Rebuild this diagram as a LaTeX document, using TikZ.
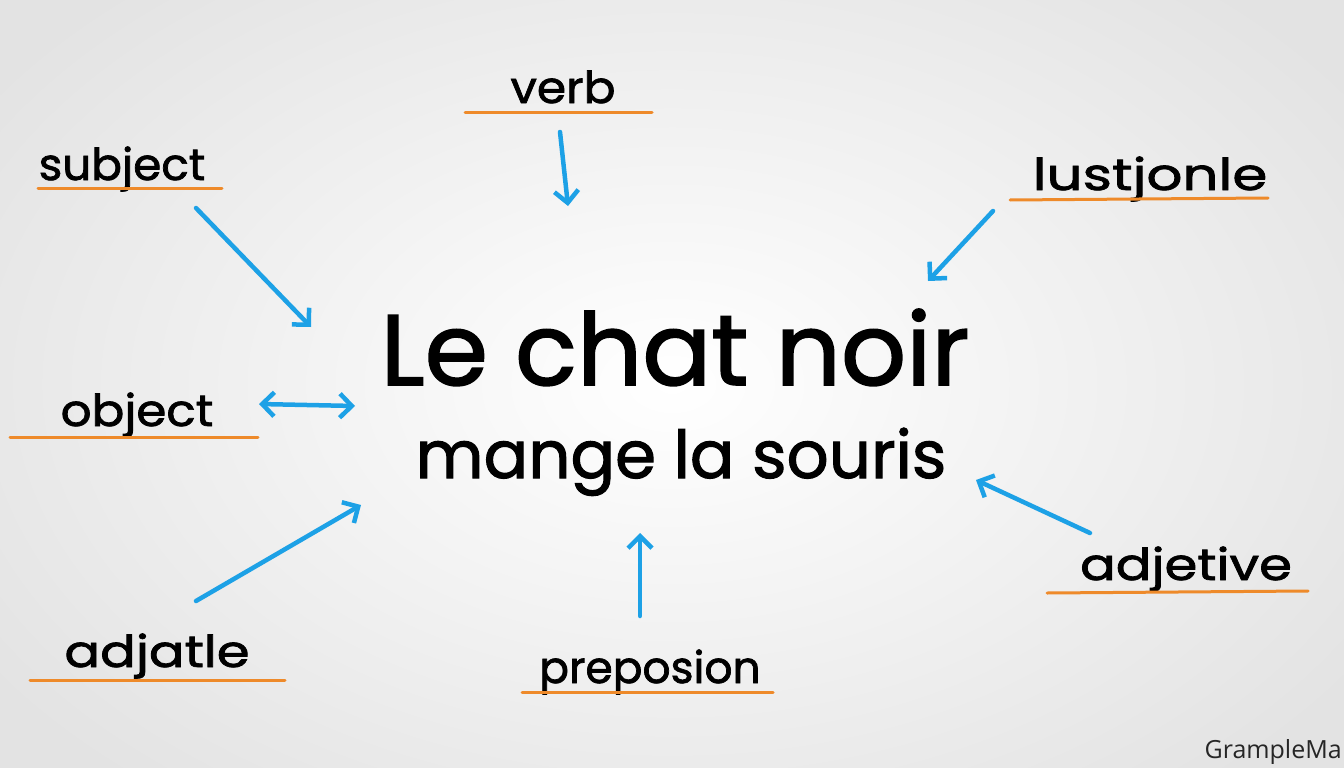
\documentclass[tikz,border=0pt]{standalone}
\usepackage{fontspec}
\setmainfont{Poppins}[FakeBold=1.6]
\newfontfamily\wmfont{Open Sans}
\usetikzlibrary{arrows.meta}
\definecolor{arrowblue}{HTML}{1DA1E6}
\definecolor{lineorange}{HTML}{EE8A2A}
\begin{document}
\begin{tikzpicture}[x=1pt,y=-1pt,
  lbl/.style={inner sep=0pt, anchor=base, text=black, font=\fontsize{44}{48}\selectfont},
  uline/.style={draw=lineorange, line width=3pt, line cap=round},
  arr/.style={draw=arrowblue, line width=4.5pt, line cap=round, line join=round,
    -{Straight Barb[length=12pt,width=24pt,line width=4.5pt]}},
  darr/.style={draw=arrowblue, line width=4.5pt, line cap=round, line join=round,
    {Straight Barb[length=12pt,width=24pt,line width=4.5pt]}-{Straight Barb[length=12pt,width=24pt,line width=4.5pt]}}]
\useasboundingbox (0,0) rectangle (1344,768);
\shade[inner color=white, outer color=black!11] (-150,-150) rectangle (1494,918);

% central sentence
\node[inner sep=0pt, anchor=base, font=\fontsize{100}{104}\selectfont] (main1) at (675,385) {\scalebox{1.02}[1]{Le chat noir}};
\node[inner sep=0pt, anchor=base, font=\fontsize{66}{70}\selectfont] (main2) at (681,478) {mange la souris};

% labels
\node[lbl] (verb) at (563,103) {\scalebox{1.07}[1]{verb}};
\draw[uline] (465,112) coordinate (verbL) -- (652,112) coordinate (verbR);
\coordinate (verbA) at (560,132);
\coordinate (verbB) at (568,206);
\draw[arr] (verbA) -- (verbB);

\node[lbl] (subj) at (122,180) {\scalebox{1.03}[1]{subject}};
\draw[uline] (38,188) coordinate (subjL) -- (222,188) coordinate (subjR);
\coordinate (subjA) at (196,208);
\coordinate (subjB) at (311,327);
\draw[arr] (subjA) -- (subjB);

\node[lbl] (lust) at (1150,190) {\scalebox{1.28}[1]{lustjonle}};
\draw[uline] (1010,200) coordinate (lustL) -- (1268,198) coordinate (lustR);
\coordinate (lustA) at (993,211);
\coordinate (lustB) at (928,281);
\draw[arr] (lustA) -- (lustB);

\node[lbl] (obj) at (137,426) {\scalebox{1.1}[1]{object}};
\draw[uline] (10,437) coordinate (objL) -- (258,437) coordinate (objR);
\coordinate (objA) at (259,404);
\coordinate (objB) at (355,406);
\draw[darr] (objA) -- (objB);

\node[lbl] (adja) at (157,667) {\scalebox{1.2}[1]{adjatle}};
\draw[uline] (30,680) coordinate (adjaL) -- (285,680) coordinate (adjaR);
\coordinate (adjaA) at (196,601);
\coordinate (adjaB) at (361,505);
\draw[arr] (adjaA) -- (adjaB);

\node[lbl] (prep) at (650,683) {\scalebox{1.0}[1]{preposion}};
\draw[uline] (522,692) coordinate (prepL) -- (773,692) coordinate (prepR);
\coordinate (prepA) at (640,616);
\coordinate (prepB) at (640,533);
\draw[arr] (prepA) -- (prepB);

\node[lbl] (adje) at (1186,580) {\scalebox{1.2}[1]{adjetive}};
\draw[uline] (1047,593) coordinate (adjeL) -- (1308,591) coordinate (adjeR);
\coordinate (adjeA) at (1090,533);
\coordinate (adjeB) at (976,480);
\draw[arr] (adjeA) -- (adjeB);

% watermark
\node[anchor=base east, inner sep=0pt, font=\wmfont\fontsize{25}{27}\selectfont, text=black!85] (wm) at (1342,758) {GrampleMa};
\end{tikzpicture}
\end{document}
